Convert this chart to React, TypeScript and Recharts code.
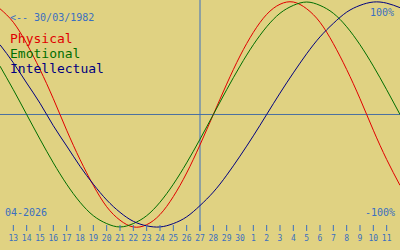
import { Legend, Line, LineChart, ReferenceLine, XAxis, YAxis } from "recharts";

// one entry per day, 12 April -> 12 May 2026 (first/last only fill the edges)
const days = [12, 13, 14, 15, 16, 17, 18, 19, 20, 21, 22, 23, 24, 25, 26, 27, 28, 29, 30, 1, 2, 3, 4, 5, 6, 7, 8, 9, 10, 11, 12];

const physical = [0.94, 0.82, 0.63, 0.4, 0.14, -0.14, -0.4, -0.63, -0.82, -0.94, -1.0, -0.98, -0.89, -0.73, -0.52, -0.27, 0.0, 0.27, 0.52, 0.73, 0.89, 0.98, 1.0, 0.94, 0.82, 0.63, 0.4, 0.14, -0.14, -0.4, -0.63];
const emotional = [0.43, 0.22, 0.0, -0.22, -0.43, -0.62, -0.78, -0.9, -0.97, -1.0, -0.97, -0.9, -0.78, -0.62, -0.43, -0.22, 0.0, 0.22, 0.43, 0.62, 0.78, 0.9, 0.97, 1.0, 0.97, 0.9, 0.78, 0.62, 0.43, 0.22, 0.0];
const intellectual = [0.62, 0.46, 0.28, 0.1, -0.1, -0.28, -0.46, -0.62, -0.76, -0.87, -0.95, -0.99, -1.0, -0.97, -0.91, -0.81, -0.69, -0.54, -0.37, -0.19, 0.0, 0.19, 0.37, 0.54, 0.69, 0.81, 0.91, 0.97, 1.0, 0.99, 0.95];

const seriesNames = ["Physical", "Emotional", "Intellectual"];

const TODAY = 15;
const BG = "#e0d282";
const BLUE = "#3a6fc0";
const MONO = "'DejaVu Sans Mono', monospace";

const rows = days.map((day, k) => ({
  k,
  day,
  physical: physical[k],
  emotional: emotional[k],
  intellectual: intellectual[k],
}));
const tickIdx = rows.map((r) => r.k).filter((k) => k > 0 && k < days.length - 1);

function DayTick({ x, y, payload }: any) {
  return (
    <g>
      <line x1={x} x2={x} y1={y - 6} y2={y} stroke={BLUE} />
      <text x={x} y={y + 10} textAnchor="middle" fontSize={8} fontFamily={MONO} fill={BLUE}>
        {days[payload.value]}
      </text>
    </g>
  );
}

function Notes() {
  return (
    <g fontFamily={MONO} fontSize={10} fill={BLUE}>
      <text x={10} y={21}>{"<-- 30/03/1982"}</text>
      <text x={394} y={16} textAnchor="end">100%</text>
      <text x={395} y={216} textAnchor="end">-100%</text>
      <text x={5} y={216}>04-2026</text>
    </g>
  );
}

function Names({ payload }: any) {
  const items = [...(payload || [])].sort(
    (a: any, b: any) => seriesNames.indexOf(a.value) - seriesNames.indexOf(b.value)
  );
  return (
    <div style={{ fontFamily: MONO, fontSize: 13, lineHeight: "15px", textAlign: "left" }}>
      {items.map((p: any) => (
        <div key={p.value} style={{ color: p.color }}>
          {p.value}
        </div>
      ))}
    </div>
  );
}

export default function App() {
  return (
    <div style={{ position: "absolute", left: 0, top: 0, width: 400, height: 250, background: BG }}>
      <LineChart width={400} height={250} data={rows} margin={{ top: 0, right: 0, bottom: 0, left: 0 }}>
        <XAxis
          dataKey="k"
          type="number"
          domain={[0, 30]}
          ticks={tickIdx}
          interval={0}
          height={19}
          axisLine={false}
          tickLine={false}
          tickSize={0}
          tickMargin={0}
          tick={<DayTick />}
          allowDataOverflow
        />
        <YAxis hide domain={[-1.036, 1.018]} allowDataOverflow />
        <ReferenceLine y={0} stroke="#4a70a0" />
        <ReferenceLine x={TODAY} stroke={BLUE} />
        <Line name="Physical" dataKey="physical" type="natural" stroke="#e00000" dot={false} activeDot={false} isAnimationActive={false} />
        <Line name="Emotional" dataKey="emotional" type="natural" stroke="#006e00" dot={false} activeDot={false} isAnimationActive={false} />
        <Line name="Intellectual" dataKey="intellectual" type="natural" stroke="#000080" dot={false} activeDot={false} isAnimationActive={false} />
        <Notes />
        <Legend
          layout="horizontal"
          verticalAlign="middle"
          align="center"
          wrapperStyle={{ top: 31, left: 10, width: "auto", height: "auto" }}
          content={<Names />}
        />
      </LineChart>
    </div>
  );
}
